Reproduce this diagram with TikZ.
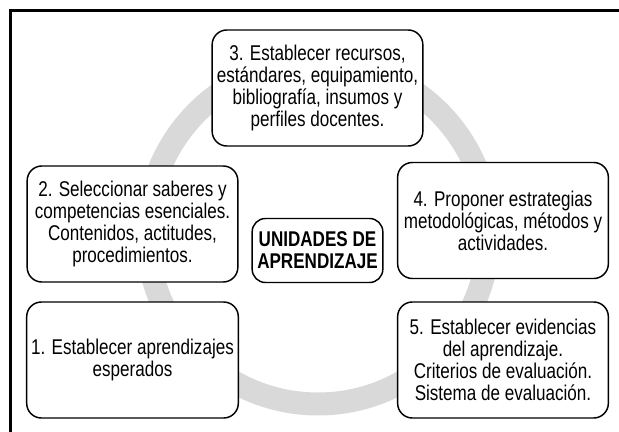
\documentclass[tikz,border=0pt]{standalone}
\usepackage{fontspec}
\setmainfont[FakeStretch=0.8]{Liberation Sans}
\usepackage{tikz}
\usetikzlibrary{shapes,positioning}
\tikzstyle{r} = [rectangle, rounded corners=11pt, minimum width=158pt, minimum height=87pt, text centered, align=center, draw=black, line width=1.1pt, fill=white, font=\fontsize{16}{16.5}\selectfont]
\tikzstyle{c} = [rectangle, rounded corners=10pt, minimum width=98pt, minimum height=48pt, text centered, align=center, draw=black, line width=1.1pt, fill=white, font=\fontsize{16}{16.5}\selectfont\bfseries]
\tikzstyle{ring} = [draw=gray!30, line width=17.25pt]

\begin{document}
\begin{tikzpicture}[x=0.75pt,y=-0.75pt]
		\useasboundingbox (0,0) rectangle (619,432);
		\draw[line width=2.25pt] (10.5,432) -- (10.5,10.5) -- (619,10.5);
		\draw[ring] (318,233) circle[radius=128.25pt];
		
		\node[c](0) at (317.5,250.5){UNIDADES DE\\APRENDIZAJE};
		\node[r](1) at (132.5,360){1. Establecer aprendizajes\\esperados};
		\node[r](2) at (132.5,224){2. Seleccionar saberes y\\competencias esenciales.\\Contenidos, actitudes,\\procedimientos.};
		\node[r](3) at (317.5,88){3. Establecer recursos,\\estándares, equipamiento,\\bibliografía, insumos y\\perfiles docentes.};
		\node[r](4) at (503,220.5){4. Proponer estrategias\\metodológicas, métodos y\\actividades.};
		\node[r](5) at (503,360){5. Establecer evidencias\\del aprendizaje.\\Criterios de evaluación.\\Sistema de evaluación.};
		\end{tikzpicture}
\end{document}
